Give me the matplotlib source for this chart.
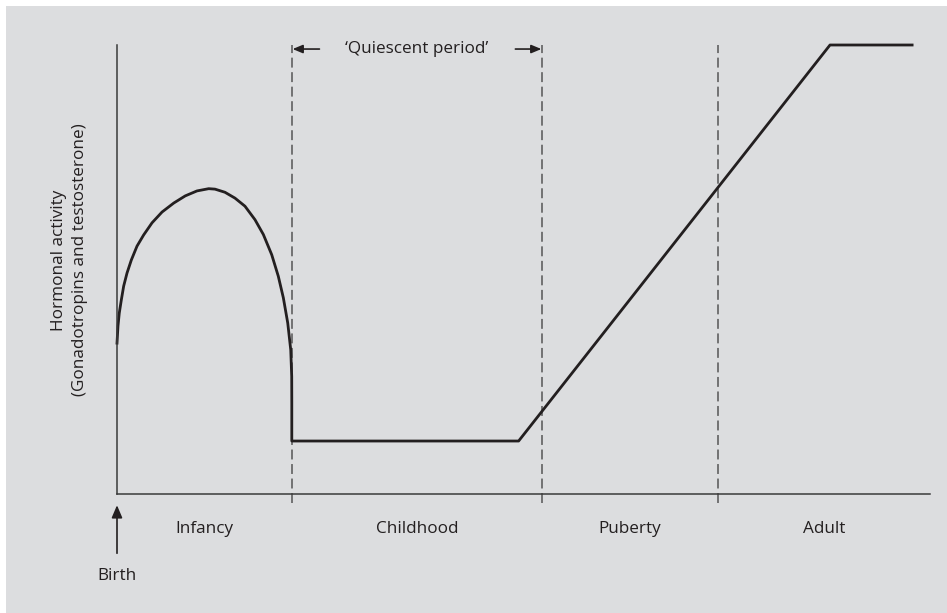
import numpy as np
import matplotlib
matplotlib.use('Agg')
from matplotlib import pyplot as plt
from matplotlib.patches import Rectangle

plt.rcParams['font.family'] = ['Open Sans', 'DejaVu Sans']

# stages along the x axis (0-100 scale), boundaries between stages
stage_labels = ['Infancy', 'Childhood', 'Puberty', 'Adult']
stage_bounds = [0, 21.5, 52.3, 73.9, 100]

# hormonal activity curve (0-100 scale)
curve_x = [0, 0.12, 0.28, 0.53, 0.82, 1.23, 1.76, 2.46, 3.28, 4.31, 5.54,
           6.98, 8.40, 9.84, 11.28, 12.05, 13.28, 14.51, 15.74, 16.97, 18.00,
           19.03, 19.84, 20.46, 21.00, 21.37, 21.49, 21.5, 21.5,
           49.4, 87.7, 97.8]
curve_y = [33.6, 37.4, 40.3, 43.2, 46.3, 49.2, 52.1, 55.2, 57.7, 60.4, 62.8,
           64.8, 66.4, 67.5, 68.0, 67.9, 67.2, 65.9, 64.1, 61.1, 57.8,
           53.3, 48.5, 43.7, 38.1, 32.1, 26.2, 20.3, 11.8,
           11.8, 100, 100]

ylabel = 'Hormonal activity\n(Gonadotropins and testosterone)'
quiet_label = '\u2018Quiescent period\u2019'

fig = plt.figure(figsize=(9.47, 6.13), dpi=100)
fig.patch.set_facecolor('white')
# grey panel behind the chart
bg = Rectangle((6/947, 0), 1, 1 - 6/613, transform=fig.transFigure,
               facecolor='#dcdddf', edgecolor='none', zorder=-10)
fig.add_artist(bg)

ax = fig.add_axes([117/947, 119/613, 813/947, 449/613])
ax.set_facecolor('none')
ax.set_xlim(0, 100)
ax.set_ylim(0, 100)
for s in ['top', 'right']:
    ax.spines[s].set_visible(False)
for s in ['left', 'bottom']:
    ax.spines[s].set_color('#3a3a3a')
    ax.spines[s].set_linewidth(1.1)
ax.set_xticks([])
ax.set_yticks([])

# dashed stage boundaries
for b in stage_bounds[1:-1]:
    ax.plot([b, b], [-2, 100], ls=(0, (6.5, 3)), color='#555555', lw=1.1, clip_on=False)

ax.plot(curve_x, curve_y, color='#231f20', lw=2.0, solid_joinstyle='round', clip_on=False)

# stage names centred in each band
for i, name in enumerate(stage_labels):
    mid = (stage_bounds[i] + stage_bounds[i + 1]) / 2
    ax.text(mid, -7.8, name, ha='center', va='center', fontsize=12.3, color='#231f20')

# birth arrow
ax.annotate('', xy=(0, -2.5), xytext=(0, -13.2), annotation_clip=False,
            arrowprops=dict(arrowstyle='-|>,head_length=0.75,head_width=0.32',
                            color='#231f20', lw=1.2, shrinkA=0, shrinkB=0))
ax.text(0, -18.2, 'Birth', ha='center', va='center', fontsize=12.3, color='#231f20')

# quiescent period
ax.text(36.9, 99.2, quiet_label, ha='center', va='center', fontsize=12.3, color='#231f20')
ax.annotate('', xy=(stage_bounds[1] + 0.1, 99.1), xytext=(24.9, 99.1), annotation_clip=False,
            arrowprops=dict(arrowstyle='-|>,head_length=0.6,head_width=0.25',
                            color='#231f20', lw=1.2, shrinkA=0, shrinkB=0))
ax.annotate('', xy=(stage_bounds[2] - 0.1, 99.1), xytext=(49.0, 99.1), annotation_clip=False,
            arrowprops=dict(arrowstyle='-|>,head_length=0.6,head_width=0.25',
                            color='#231f20', lw=1.2, shrinkA=0, shrinkB=0))

ax.text(-5.85, 52.1, ylabel, rotation=90, ha='center', va='center', fontsize=12.3,
        color='#231f20', multialignment='center', linespacing=1.35)

fig.savefig('out.png', dpi=100, facecolor=fig.get_facecolor())
